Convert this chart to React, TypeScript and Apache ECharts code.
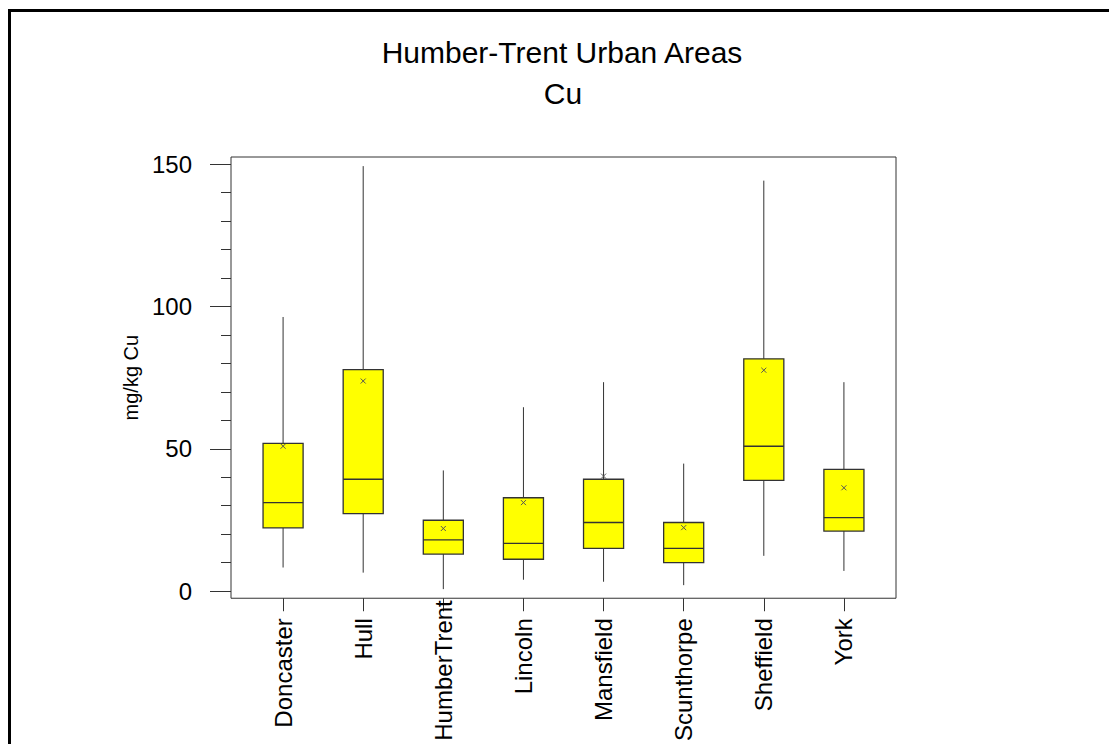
import React, { useEffect, useRef } from "react";
import * as echarts from "echarts";

const titleText = "Humber-Trent Urban Areas";
const subtitleText = "Cu";
const yAxisTitle = "mg/kg Cu";

const categories = ["Doncaster", "Hull", "HumberTrent", "Lincoln", "Mansfield", "Scunthorpe", "Sheffield", "York"];
const whiskerLow = [8.3, 6.5, 0.7, 4.0, 3.3, 2.1, 12.4, 7.1];
const quartile1 = [22.2, 27.2, 13.0, 11.2, 15.0, 10.0, 38.9, 21.1];
const medians = [31.1, 39.3, 18.0, 16.8, 24.1, 15.0, 50.9, 25.8];
const quartile3 = [51.9, 77.8, 24.9, 32.8, 39.3, 24.1, 81.6, 42.8];
const whiskerHigh = [96.3, 149.3, 42.4, 64.6, 73.4, 44.8, 144.2, 73.4];
const means = [50.9, 73.8, 22.0, 31.1, 40.4, 22.3, 77.6, 36.3];

const yMajorTicks = [0, 50, 100, 150];
const yMinorTicks = [0, 10, 20, 30, 40, 50, 60, 70, 80, 90, 100, 110, 120, 130, 140, 150];
const xTicks = [0, 1, 2, 3, 4, 5, 6, 7];

const FONT = "'Liberation Sans', Arial, sans-serif";
const INK = "#333333";

export default function App() {
  const ref = useRef<HTMLDivElement>(null);

  useEffect(() => {
    if (!ref.current) return;
    const chart = echarts.init(ref.current, null, { renderer: "svg" });

    const data = categories.map((_, i) => [
      i,
      whiskerLow[i],
      quartile1[i],
      medians[i],
      quartile3[i],
      whiskerHigh[i],
      means[i],
    ]);

    const renderItem = (params: any, api: any) => {
      const x = api.value(0);
      const pLow = api.coord([x, api.value(1)]);
      const pQ1 = api.coord([x, api.value(2)]);
      const pMed = api.coord([x, api.value(3)]);
      const pQ3 = api.coord([x, api.value(4)]);
      const pHigh = api.coord([x, api.value(5)]);
      const pMean = api.coord([x, api.value(6)]);
      const halfW = api.size([1, 0])[0] * 0.25;
      const cx = pMed[0];
      const m = 2.5;
      return {
        type: "group",
        children: [
          {
            type: "line",
            shape: { x1: cx, y1: pHigh[1], x2: cx, y2: pLow[1] },
            style: { stroke: INK, lineWidth: 1 },
          },
          {
            type: "rect",
            shape: { x: cx - halfW, y: pQ3[1], width: halfW * 2, height: pQ1[1] - pQ3[1] },
            style: { fill: "#ffff00", stroke: INK, lineWidth: 1.3 },
          },
          {
            type: "line",
            shape: { x1: cx - halfW, y1: pMed[1], x2: cx + halfW, y2: pMed[1] },
            style: { stroke: INK, lineWidth: 1.3 },
          },
          {
            type: "line",
            shape: { x1: cx - m, y1: pMean[1] - m, x2: cx + m, y2: pMean[1] + m },
            style: { stroke: "#555", lineWidth: 1 },
          },
          {
            type: "line",
            shape: { x1: cx - m, y1: pMean[1] + m, x2: cx + m, y2: pMean[1] - m },
            style: { stroke: "#555", lineWidth: 1 },
          },
        ],
      };
    };

    const labelToken = { fontSize: 24, fontFamily: FONT, color: "#000" };

    chart.setOption({
      animation: false,
      backgroundColor: "#ffffff",
      grid: {
        left: 231,
        top: 157,
        width: 665,
        height: 442,
        show: true,
        borderColor: INK,
        borderWidth: 1,
        containLabel: false,
      },
      graphic: [
        {
          type: "rect",
          shape: { x: 9.5, y: 10.5, width: 1300, height: 900 },
          style: { fill: "none", stroke: "#000", lineWidth: 3 },
          silent: true,
        },
        {
          type: "text",
          x: 562,
          y: 52,
          style: {
            text: titleText,
            fontSize: 30,
            fontFamily: FONT,
            fill: "#000",
            textAlign: "center",
            textVerticalAlign: "middle",
          },
        },
        {
          type: "text",
          x: 563,
          y: 93,
          style: {
            text: subtitleText,
            fontSize: 30,
            fontFamily: FONT,
            fill: "#000",
            textAlign: "center",
            textVerticalAlign: "middle",
          },
        },
      ],
      xAxis: {
        type: "value",
        min: -0.65,
        max: 7.65,
        position: "bottom",
        axisLine: { show: false, onZero: false },
        splitLine: { show: false },
        axisTick: {
          show: true,
          customValues: xTicks,
          length: 13,
          inside: false,
          lineStyle: { color: INK, width: 1 },
        },
        axisLabel: {
          show: true,
          customValues: xTicks,
          rotate: 90,
          margin: 2,
          fontSize: 24,
          fontFamily: FONT,
          color: "#000",
          formatter: (v: number) => {
            const name = categories[Math.round(v)] ?? "";
            const key = name.length > 10 ? "tight" : "norm";
            return `{${key}|${name}}`;
          },
          rich: {
            norm: { ...labelToken, padding: [0, 18, 0, 0] },
            tight: { ...labelToken, padding: [0, 0, 0, 0] },
          },
        },
      },
      yAxis: [
        {
          type: "value",
          min: -2.5,
          max: 152.5,
          position: "left",
          name: yAxisTitle,
          nameLocation: "middle",
          nameGap: 66,
          nameTextStyle: { fontSize: 20, fontFamily: FONT, color: "#000" },
          axisLine: { show: false, onZero: false },
          splitLine: { show: false },
          axisTick: {
            show: true,
            customValues: yMajorTicks,
            length: 21,
            lineStyle: { color: INK, width: 1 },
          },
          axisLabel: {
            show: true,
            customValues: yMajorTicks,
            margin: 39,
            fontSize: 24,
            fontFamily: FONT,
            color: "#000",
          },
        },
        {
          type: "value",
          min: -2.5,
          max: 152.5,
          position: "left",
          offset: 0,
          axisLine: { show: false, onZero: false },
          splitLine: { show: false },
          axisLabel: { show: false },
          axisTick: {
            show: true,
            customValues: yMinorTicks,
            length: 10,
            lineStyle: { color: INK, width: 1 },
          },
        },
      ],
      series: [
        {
          type: "custom",
          name: "Cu",
          xAxisIndex: 0,
          yAxisIndex: 0,
          renderItem,
          encode: { x: 0, y: [1, 2, 3, 4, 5, 6] },
          data,
          clip: false,
        },
      ],
    });

    return () => chart.dispose();
  }, []);

  return (
    <div
      ref={ref}
      style={{ position: "absolute", left: 0, top: 0, width: 1109, height: 744, background: "#fff" }}
    />
  );
}
